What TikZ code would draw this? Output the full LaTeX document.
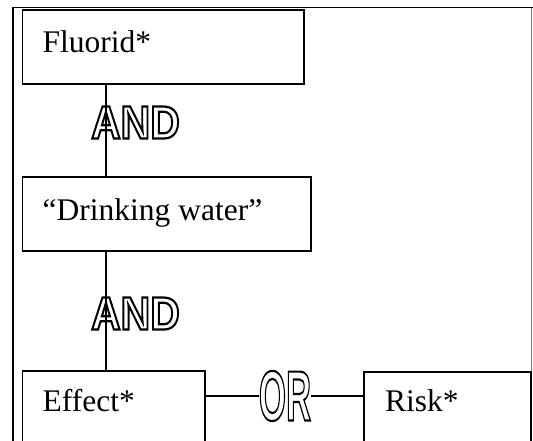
\documentclass[tikz,border=0pt]{standalone}
\usepackage{fontspec}
\setmainfont{Liberation Serif}
\newfontfamily\logicfont{Liberation Sans}
\newcommand{\hollow}[1]{\special{pdf:literal direct 1 Tr 2.2 w}#1\special{pdf:literal direct 0 Tr}}
\tikzset{
  boxnode/.style={draw, line width=1.6pt, rectangle, inner sep=0pt},
  labeltext/.style={anchor=base west, inner sep=0pt, font=\fontsize{31.5}{31.5}\selectfont},
  logic/.style={inner sep=0pt, font=\logicfont\bfseries},
  link/.style={line width=1.6pt}
}
\begin{document}
\begin{tikzpicture}[x=1pt,y=-1pt]
\useasboundingbox (0,0) rectangle (533,440);
\clip (0,0) rectangle (533,440);
% outer frame
\draw[line width=1.9pt] (13,445) -- (13,7.5) -- (533,7.5);
\draw[line width=0.9pt, gray] (531.8,7.5) -- (531.8,445);
% boxes
\node[boxnode, minimum width=281.6pt, minimum height=74pt] (fluorid) at (163.2,47) {};
\node[boxnode, minimum width=288.6pt, minimum height=74pt] (drink) at (166.7,214) {};
\node[boxnode, minimum width=182.6pt, minimum height=89pt] (effect) at (113.7,415.5) {};
\node[boxnode, minimum width=167pt, minimum height=88pt] (risk) at (447.5,416) {};
% texts
\node[labeltext] (tfluorid) at (42.5,52) {Fluorid*};
\node[labeltext] (tdrink) at (42.5,220) {“Drinking water”};
\node[labeltext] (teffect) at (42.5,411) {Effect*};
\node[labeltext] (trisk) at (385,411) {Risk*};
% connectors
\coordinate (vx) at (106,0);
\draw[link] (fluorid.south -| vx) -- (drink.north -| vx);
\draw[link] (drink.south -| vx) -- (effect.north -| vx);
% logic labels
\node[logic] (and1) at (135.5,122.5) {\scalebox{0.88}[1]{\fontsize{46.5}{46.5}\selectfont\hollow{AND}}};
\node[logic] (and2) at (135.5,313.5) {\scalebox{0.88}[1]{\fontsize{46.5}{46.5}\selectfont\hollow{AND}}};
\node[logic] (orn) at (285,396) {\scalebox{0.49}[1]{\fontsize{71}{71}\selectfont\hollow{OR}}};
\draw[link] (effect.east |- orn) -- (orn.west);
\draw[link] (orn.east) -- (risk.west |- orn);
\end{tikzpicture}
\end{document}
